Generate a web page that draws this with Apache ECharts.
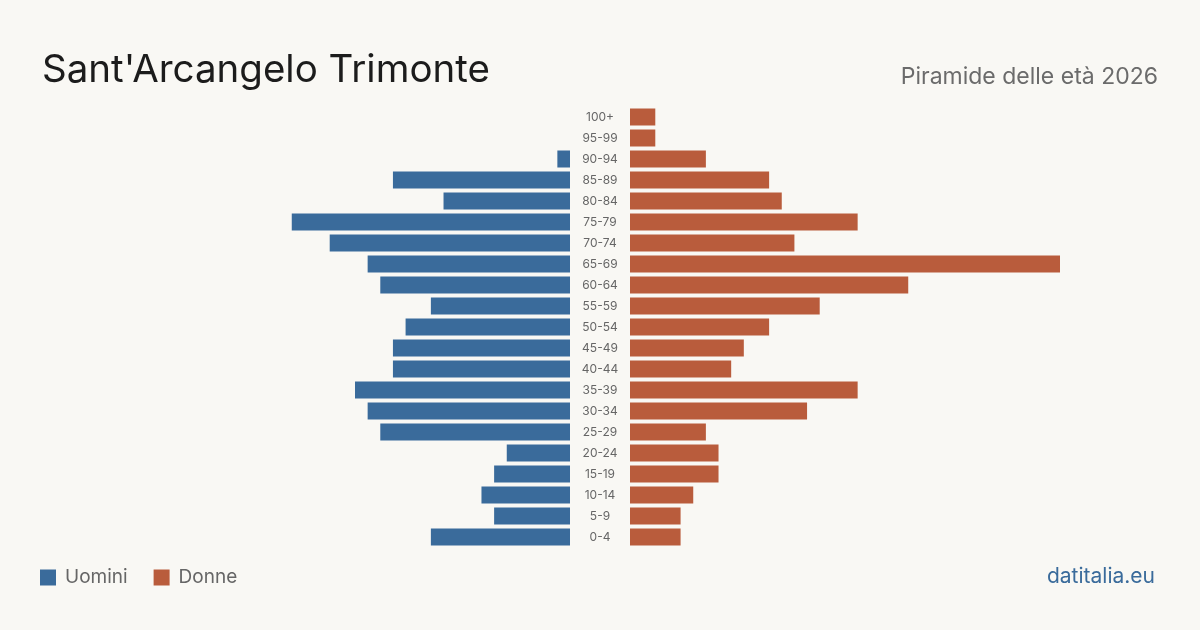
<!DOCTYPE html>
<html>
<head>
<meta charset="utf-8">
<script src="https://cdn.jsdelivr.net/npm/echarts@6/dist/echarts.min.js"></script>
<style>
  html, body { margin: 0; padding: 0; background: #f9f8f4; }
  #chart { width: 1200px; height: 630px; }
</style>
</head>
<body>
<div id="chart"></div>
<script>
// classi di età, dal basso verso l'alto
const ageGroups = ['0-4', '5-9', '10-14', '15-19', '20-24', '25-29', '30-34', '35-39', '40-44', '45-49',
    '50-54', '55-59', '60-64', '65-69', '70-74', '75-79', '80-84', '85-89', '90-94', '95-99', '100+'];
const men = [11, 6, 7, 6, 5, 15, 16, 17, 14, 14, 13, 11, 15, 16, 19, 22, 10, 14, 1, 0, 0];
const women = [4, 4, 5, 7, 7, 6, 14, 18, 8, 9, 11, 15, 22, 34, 13, 18, 12, 11, 6, 2, 2];

const blue = '#3a6b9b';
const red = '#b95c3c';
const maxVal = Math.max(Math.max(...men), Math.max(...women));

(function () {
    var myChart = echarts.init(document.getElementById('chart'));
    var option = {
        backgroundColor: '#f9f8f4',
        animation: false,
        textStyle: { fontFamily: 'Inter' },
        title: [
            {
                text: "Sant'Arcangelo Trimonte",
                left: 37, top: 46,
                textStyle: { fontFamily: 'Inter', fontSize: 38.5, fontWeight: 400, color: '#1c1c1c' }
            },
            {
                text: 'Piramide delle età 2026',
                right: 37, top: 61,
                textStyle: { fontFamily: 'Inter', fontSize: 23, fontWeight: 400, color: '#6b6b6b' }
            },
            {
                text: 'datitalia.eu',
                right: 40, top: 561,
                textStyle: { fontFamily: 'Inter', fontSize: 21, fontWeight: 400, color: '#3a6b9b' }
            }
        ],
        legend: {
            left: 35, top: 563,
            icon: 'rect',
            itemWidth: 16, itemHeight: 16,
            itemGap: 26,
            textStyle: { fontFamily: 'Inter', fontSize: 19, color: '#666', padding: [0, 0, 0, 4] },
            data: ['Uomini', 'Donne']
        },
        grid: [
            { left: 140, width: 430, top: 106.5, height: 441 },
            { left: 630, width: 430, top: 106.5, height: 441 }
        ],
        xAxis: [
            { gridIndex: 0, type: 'value', inverse: true, min: 0, max: maxVal, show: false },
            { gridIndex: 1, type: 'value', min: 0, max: maxVal, show: false }
        ],
        yAxis: [
            {
                gridIndex: 0, type: 'category', data: ageGroups, position: 'right',
                axisLine: { show: false }, axisTick: { show: false }, axisLabel: { show: false }
            },
            {
                gridIndex: 1, type: 'category', data: ageGroups,
                axisLine: { show: false }, axisTick: { show: false },
                axisLabel: { margin: 30, align: 'center', fontSize: 12, color: '#666', fontFamily: 'Inter' }
            }
        ],
        series: [
            {
                name: 'Uomini', type: 'bar', xAxisIndex: 0, yAxisIndex: 0,
                data: men, barCategoryGap: '19%',
                itemStyle: { color: blue }
            },
            {
                name: 'Donne', type: 'bar', xAxisIndex: 1, yAxisIndex: 1,
                data: women, barCategoryGap: '19%',
                itemStyle: { color: red }
            }
        ]
    };
    myChart.setOption(option);
    window.addEventListener('resize', function () {
        myChart.resize();
    });
})();
</script>
</body>
</html>
